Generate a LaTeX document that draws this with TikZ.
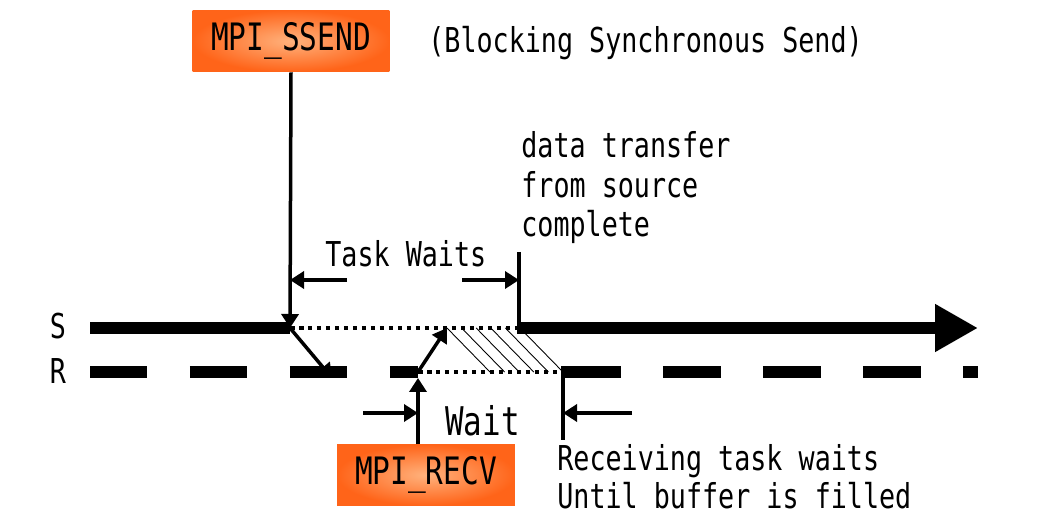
\documentclass[tikz,border=0pt]{standalone}
\usepackage{fontspec}
\newfontfamily\gulfont[FakeStretch=0.78]{DejaVu Sans Mono}
\usetikzlibrary{arrows.meta}

\definecolor{boxorange}{RGB}{255,100,25}
\definecolor{boxlight}{RGB}{255,178,125}

\tikzset{
  callbox/.style={rectangle, shading=radial, inner color=boxlight, outer color=boxorange,
    font=\gulfont\fontsize{21.5pt}{24pt}\selectfont, inner sep=0pt},
  lbl/.style={font=\gulfont\fontsize{19.5pt}{22pt}\selectfont, inner sep=0pt, anchor=base west},
  bar/.style={line width=0.26cm},
  dots/.style={line width=0.09cm, dash pattern=on 0.09cm off 0.09cm},
  ptr/.style={line width=0.07cm, -{Triangle[length=0.28cm,width=0.34cm]}},
  tick/.style={line width=0.07cm},
  hatch/.style={line width=0.5pt},
}

\begin{document}
\begin{tikzpicture}[x=0.02cm, y=-0.02cm]
  \useasboundingbox[fill=white] (0,0) rectangle (1038,530);

  % calls
  \node[callbox, minimum width=3.94cm, minimum height=1.24cm] (ssend) at (291,41) {MPI\_SSEND};
  \node[callbox, minimum width=3.56cm, minimum height=1.22cm] (recv) at (426,475) {MPI\_RECV};
  \node[lbl] (title) at (428,53) {(Blocking Synchronous Send)};

  % time lines
  \node[lbl, anchor=base] (slbl) at (58,338) {S};
  \node[lbl, anchor=base] (rlbl) at (58,383) {R};
  \coordinate (sL) at (90,328);
  \coordinate (sA) at (290,328);
  \coordinate (sB) at (519,328);
  \coordinate (sE) at (978,328);
  \coordinate (rL) at (90,372);
  \coordinate (rA) at (418,372);
  \coordinate (rB) at (563,372);
  \coordinate (rE) at (978,372);

  \draw[bar] (sL) -- (sA);
  \draw[dots] (sA) -- (sB);
  \draw[bar, -{Triangle[length=0.86cm,width=0.9cm]}] (sB) -- (sE);
  \draw[bar, dash pattern=on 1.14cm off 0.86cm] (rL) -- (rA);
  \draw[dots] (rA) -- (rB);
  \draw[bar, dash pattern=on 1.16cm off 0.84cm] (rB) -- (rE);

  % message
  \coordinate (rHit) at (332,378);
  \coordinate (sHit) at (447,328);
  \draw[ptr] (ssend.south) -- (sA);
  \draw[ptr] (sA) -- (rHit);
  \draw[ptr] (recv.north -| rA) -- ([yshift=-0.12cm]rA);
  \draw[ptr] (rA) -- (sHit);
  \foreach \i in {0,...,5}
    \draw[hatch] ([xshift=\i*0.292cm]sHit) -- ++(43,44);

  % task waits
  \coordinate (cTop) at (519,252);
  \draw[tick] (cTop) -- ([yshift=-0.12cm]sB);
  \node[lbl] (tw) at (325,267) {Task Waits};
  \coordinate (twL) at (347,280);
  \coordinate (twR) at (462,280);
  \draw[ptr] (twL) -- (twL -| sA);
  \draw[ptr] (twR) -- (twR -| cTop);
  \node[lbl] (dt1) at (521,158) {data transfer};
  \node[lbl] (dt2) at (521,198) {from source};
  \node[lbl] (dt3) at (521,237) {complete};

  % receive waits
  \coordinate (fBot) at (563,440);
  \draw[tick] ([yshift=0.12cm]rB) -- (fBot);
  \coordinate (wL) at (363,413);
  \coordinate (wR) at (632,413);
  \draw[ptr] (wL) -- (wL -| rA);
  \draw[ptr] (wR) -- (wR -| rB);
  \node[lbl, font=\gulfont\fontsize{22.5pt}{25pt}\selectfont] (wt) at (445,435) {Wait};
  \node[lbl] (rw1) at (557,470) {Receiving task waits};
  \node[lbl] (rw2) at (557,508) {Until buffer is filled};
\end{tikzpicture}
\end{document}
